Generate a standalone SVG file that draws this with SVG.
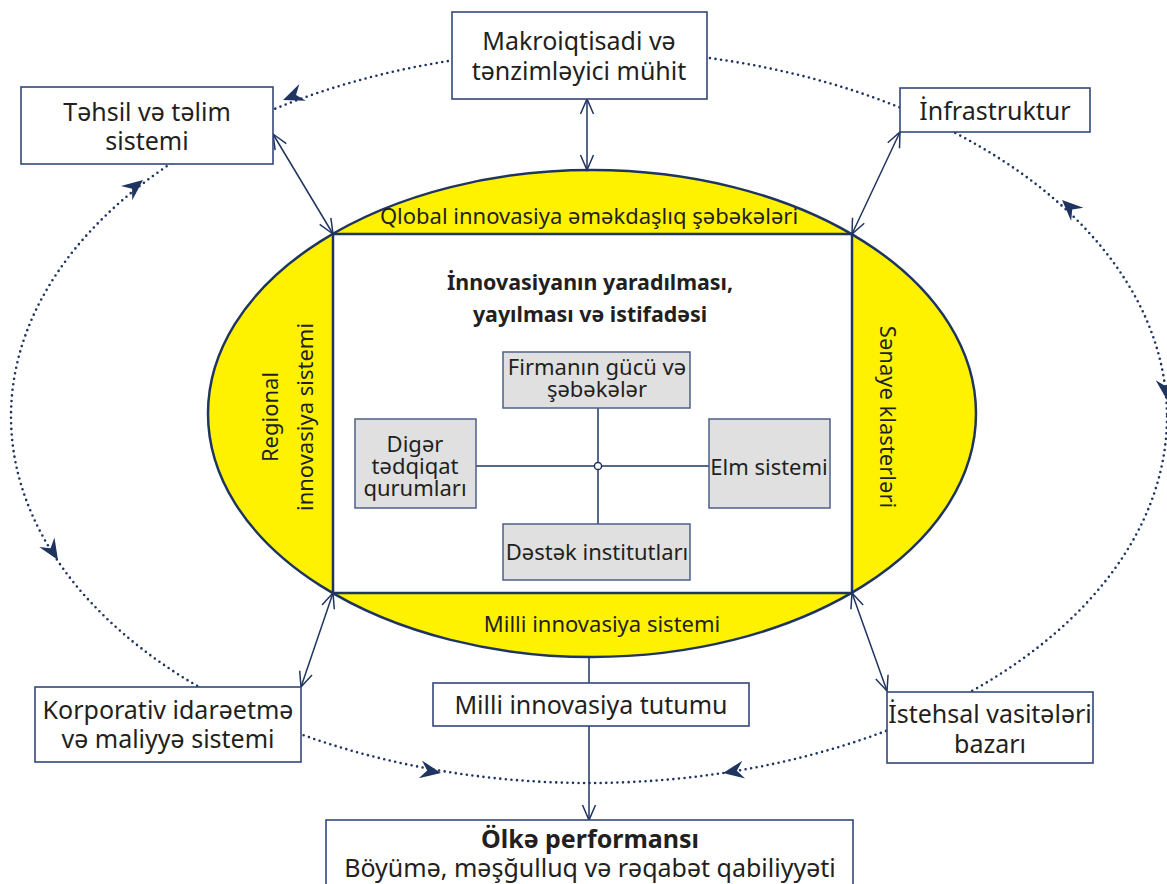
<svg xmlns="http://www.w3.org/2000/svg" xmlns:xlink="http://www.w3.org/1999/xlink" width="1167" height="884" viewBox="0 0 1167 884">
<style>
text{font-family:"Noto Sans","Open Sans","Liberation Sans",sans-serif;fill:#231f20}
.box{fill:#fff;stroke:#34477a;stroke-width:1.6}
.gbox{fill:#e0e0e0;stroke:#4f5f88;stroke-width:1.5}
.t24{font-size:25px;text-anchor:middle}
.t22{font-size:22px;text-anchor:middle}
.t21{font-size:22px;text-anchor:middle}
.b{font-weight:bold}
.ln{fill:none;stroke:#1f3560;stroke-width:1.5}
.dot{fill:none;stroke:#1f3560;stroke-width:2.6;stroke-dasharray:0 5.6;stroke-linecap:round}
</style>
<defs>
<marker id="v" markerUnits="userSpaceOnUse" viewBox="-17 -9 19 18" refX="0" refY="0" markerWidth="19" markerHeight="18" orient="auto-start-reverse">
<path d="M-15,-6.5 L0,0 L-15,6.5" fill="none" stroke="#1f3560" stroke-width="1.5"/>
</marker>
<path id="dart" d="M0,0 L-21,-9 L-14,0 L-21,9 Z" fill="#1f3560"/>
</defs>
<rect width="1167" height="884" fill="#fff"/>

<g id="connectors">
<ellipse class="dot" cx="589" cy="416.5" rx="578" ry="366.5"/>
<use xlink:href="#dart" transform="translate(283,100) rotate(158.8)"/>
<use xlink:href="#dart" transform="translate(143,180) rotate(-38.7)"/>
<use xlink:href="#dart" transform="translate(58,560) rotate(57.9)"/>
<use xlink:href="#dart" transform="translate(441,773) rotate(10.1)"/>
<use xlink:href="#dart" transform="translate(723,773) rotate(170.9)"/>
<use xlink:href="#dart" transform="translate(1062,200) rotate(-136.8)"/>
<use xlink:href="#dart" transform="translate(1167,400) rotate(83.5)"/>
</g>

<g id="ellipse">
<ellipse cx="592" cy="413.5" rx="384" ry="243.5" fill="#fff200" stroke="#1f3560" stroke-width="2.5"/>
<rect x="333" y="234" width="519" height="359" fill="#fff" stroke="#1f3560" stroke-width="2.5"/>
<text class="t21" x="589" y="224">Qlobal innovasiya əməkdaşlıq şəbəkələri</text>
<text class="t21" x="602" y="632">Milli innovasiya sistemi</text>
<text class="t21" transform="translate(278,417) rotate(-90)">Regional</text>
<text class="t21" transform="translate(313,417) rotate(-90)">innovasiya sistemi</text>
<text class="t21" transform="translate(880,417) rotate(90)">Sənaye klasterləri</text>
</g>

<g id="title">
<text class="t21 b" x="590" y="290" style="font-size:21.4px">İnnovasiyanın yaradılması,</text>
<text class="t21 b" x="590" y="322" style="font-size:21.4px">yayılması və istifadəsi</text>
</g>

<g id="inner-links">
<line class="ln" x1="476" y1="466" x2="709" y2="466"/>
<line class="ln" x1="598" y1="408" x2="598" y2="524"/>
<circle cx="598" cy="466" r="3.6" fill="#fff" stroke="#1f3560" stroke-width="1.5"/>
</g>

<g id="firma">
<rect class="gbox" x="503" y="352" width="187" height="56"/>
<text class="t22" x="597" y="375">Firmanın gücü və</text>
<text class="t22" x="597" y="397">şəbəkələr</text>
</g>
<g id="diger">
<rect class="gbox" x="355" y="419" width="121" height="89"/>
<text class="t22" x="415" y="452">Digər</text>
<text class="t22" x="415" y="474">tədqiqat</text>
<text class="t22" x="415" y="496">qurumları</text>
</g>
<g id="elm">
<rect class="gbox" x="709" y="419" width="121" height="89"/>
<text class="t22" x="769" y="475">Elm sistemi</text>
</g>
<g id="destek">
<rect class="gbox" x="503" y="524" width="187" height="56"/>
<text class="t22" x="597" y="560">Dəstək institutları</text>
</g>

<g id="arrows">
<line class="ln" x1="587" y1="99" x2="587" y2="170" marker-start="url(#v)" marker-end="url(#v)"/>
<line class="ln" x1="273" y1="134" x2="333" y2="234" marker-start="url(#v)" marker-end="url(#v)"/>
<line class="ln" x1="900" y1="132" x2="852" y2="234" marker-start="url(#v)" marker-end="url(#v)"/>
<line class="ln" x1="301" y1="687" x2="333" y2="593" marker-start="url(#v)" marker-end="url(#v)"/>
<line class="ln" x1="887" y1="691" x2="852" y2="593" marker-start="url(#v)" marker-end="url(#v)"/>
<line class="ln" x1="589" y1="657" x2="589" y2="683"/>
<line class="ln" x1="589" y1="726" x2="589" y2="820" marker-end="url(#v)"/>
</g>

<g id="makro">
<rect class="box" x="452" y="12" width="255" height="87"/>
<text class="t24" x="579" y="50">Makroiqtisadi və</text>
<text class="t24" x="579" y="80">tənzimləyici mühit</text>
</g>
<g id="tehsil">
<rect class="box" x="21" y="87" width="252" height="77"/>
<text class="t24" x="147" y="121">Təhsil və təlim</text>
<text class="t24" x="147" y="150">sistemi</text>
</g>
<g id="infra">
<rect class="box" x="900" y="88" width="190" height="44"/>
<text class="t24" x="995" y="120">İnfrastruktur</text>
</g>
<g id="korporativ">
<rect class="box" x="35" y="687" width="266" height="75"/>
<text class="t24" x="168" y="719">Korporativ idarəetmə</text>
<text class="t24" x="168" y="748">və maliyyə sistemi</text>
</g>
<g id="tutum">
<rect class="box" x="433" y="683" width="316" height="43"/>
<text class="t24" x="591" y="714">Milli innovasiya tutumu</text>
</g>
<g id="istehsal">
<rect class="box" x="887" y="692" width="206" height="71"/>
<text class="t24" x="990" y="723">İstehsal vasitələri</text>
<text class="t24" x="990" y="753">bazarı</text>
</g>
<g id="olke">
<rect class="box" x="326" y="820" width="527" height="80"/>
<text class="t24 b" x="590" y="848">Ölkə performansı</text>
<text class="t24" x="590" y="877">Böyümə, məşğulluq və rəqabət qabiliyyəti</text>
</g>
</svg>
